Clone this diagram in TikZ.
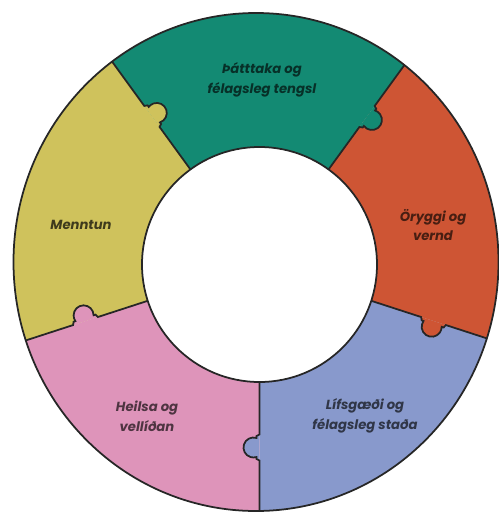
\documentclass[tikz,border=0pt]{standalone}
\usepackage{fontspec}
\setmainfont{Poppins}
\definecolor{segGreen}{HTML}{138A73}
\definecolor{segOrange}{HTML}{CE5534}
\definecolor{segYellow}{HTML}{CFC25C}
\definecolor{segPink}{HTML}{DE94BA}
\definecolor{segBlue}{HTML}{8899CC}
\tikzset{
  seglabel/.style={font=\bfseries\itshape\fontsize{7.5}{11.3}\selectfont, align=center},
  rim/.style={line width=1pt, draw=black!85},
}

\begin{document}
\begin{tikzpicture}[x=0.02cm, y=0.02cm]

\useasboundingbox (-259.5,-249.5) rectangle (239.5,264.5);

\begin{scope}
\clip (-3.5,2.5) ellipse [x radius=242.5, y radius=249];

% the five pieces
\foreach \ang/\col in {270/segBlue, 342/segOrange, 54/segGreen, 126/segYellow, 198/segPink}
  \fill[\col] (0,0) -- (\ang:300) arc[start angle=\ang, end angle=\ang+72, radius=300] -- cycle;

% seams with a knob that pokes into the clockwise neighbour
\foreach \ang/\col in {270/segBlue, 342/segOrange, 54/segGreen, 126/segYellow, 198/segPink}{
  \begin{scope}[rotate=\ang]
    \fill[\col] (170,0) -- (171.5,-3) -- (173.46,-3) arc[start angle=162.5, end angle=377.5, radius=10] -- (194.5,-3) -- (196,0) -- cycle;
    \draw[rim] (117.5,0) -- (170,0) -- (171.5,-3) -- (173.46,-3) arc[start angle=162.5, end angle=377.5, radius=10] -- (194.5,-3) -- (196,0) -- (300,0);
  \end{scope}
}
\end{scope}

\draw[rim] (-3.5,2.5) ellipse [x radius=242.5, y radius=249];
\filldraw[rim, fill=white] (0,0) circle [radius=117.5];

\node[seglabel, text=segGreen!35!black] (tengsl) at (2.5,184.5) {Þátttaka og\\félagsleg tengsl};
\node[seglabel, text=segOrange!35!black] (vernd) at (173.5,39.5) {Öryggi og\\vernd};
\node[seglabel, text=segYellow!30!black] (menntun) at (-178.5,39.5) {Menntun};
\node[seglabel, text=segPink!35!black] (heilsa) at (-112.5,-151.5) {Heilsa og\\vellíðan};
\node[seglabel, text=segBlue!35!black] (lifsgaedi) at (105.5,-151.5) {Lífsgæði og\\félagsleg staða};

\end{tikzpicture}
\end{document}
